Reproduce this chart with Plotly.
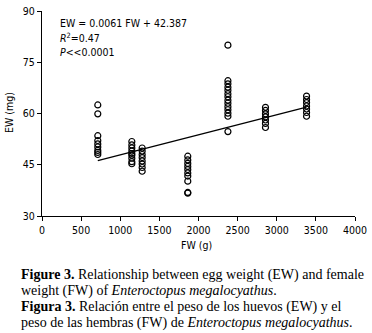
import plotly.graph_objects as go

# ---- data ----
fw_groups = [713, 1148, 1280, 1863, 2376, 2856, 3381]
ew_700 = [62.5, 59.9, 53.5, 52.1, 51.1, 50.2, 49.2, 48.6, 48.0]
ew_1150 = [51.8, 50.8, 49.9, 49.0, 48.3, 47.8, 46.9, 45.9, 45.3]
ew_1280 = [49.9, 49.0, 48.0, 47.1, 46.1, 45.2, 44.2, 43.1]
ew_1870 = [47.5, 46.4, 45.4, 44.5, 43.6, 42.6, 41.7, 40.2, 36.9, 36.7]
ew_2380 = [80.0, 69.6, 68.7, 67.7, 66.8, 65.8, 64.9, 63.9, 63.0, 62.0, 61.1, 60.1, 59.2, 54.7]
ew_2860 = [61.8, 60.9, 59.9, 59.0, 58.1, 57.1, 55.9]
ew_3380 = [65.1, 64.1, 63.2, 62.2, 61.3, 60.3, 59.2]
ew_groups = [ew_700, ew_1150, ew_1280, ew_1870, ew_2380, ew_2860, ew_3380]

fit_fw = [713, 3381]
fit_ew = [46.2, 61.9]

x_ticks = [0, 500, 1000, 1500, 2000, 2500, 3000, 3500, 4000]
y_ticks = [30, 45, 60, 75, 90]

eq_lines = ["EW = 0.0061 FW + 42.387", "<i>R</i><sup>2</sup>=0.47", "<i>P</i>&lt;&lt;0.0001"]
caption_lines = [
    "<b>Figure 3.</b> Relationship between egg weight (EW) and female",
    "weight (FW) of <i>Enteroctopus megalocyathus</i>.",
    "<b>Figura 3.</b> Relación entre el peso de los huevos (EW) y el",
    "peso de las hembras (FW) de <i>Enteroctopus megalocyathus</i>.",
]

# ---- build ----
xs, ys = [], []
for f, vals in zip(fw_groups, ew_groups):
    xs += [f] * len(vals)
    ys += vals

W, H = 372, 333
L, R, T, B = 42, 7, 5, 117
pw, ph = W - L - R, H - T - B

def px(x):
    return (x - L) / pw

def py(y):
    return (H - B - y) / ph

NARROW = "Liberation Sans Narrow, Arial Narrow, DejaVu Sans Condensed, Arial, sans-serif"
SERIF = "Liberation Serif, Times New Roman, serif"
FS = 10.5

fig = go.Figure()
fig.add_trace(go.Scatter(x=fit_fw, y=fit_ew, mode="lines",
                         line=dict(color="black", width=1.3), showlegend=False))
fig.add_trace(go.Scatter(x=xs, y=ys, mode="markers",
                         marker=dict(symbol="circle-open", size=6, color="black",
                                     line=dict(width=1.2, color="black")),
                         showlegend=False))

ann = []
for i, t in enumerate(eq_lines):
    ann.append(dict(text=t, x=px(59), y=py(17 + 15 * i), xref="paper", yref="paper",
                    xanchor="left", yanchor="middle", showarrow=False,
                    font=dict(family=NARROW, size=FS, color="black")))
ann.append(dict(text="FW (g)", x=px(201), y=py(246), xref="paper", yref="paper",
                xanchor="center", yanchor="middle", showarrow=False,
                font=dict(family=NARROW, size=FS, color="black")))
ann.append(dict(text="EW (mg)", x=px(8), y=py(110), xref="paper", yref="paper",
                xanchor="center", yanchor="middle", showarrow=False, textangle=-90,
                font=dict(family=NARROW, size=FS, color="black")))
cap_y = [277, 293, 310, 326]
for t, yy in zip(caption_lines, cap_y):
    ann.append(dict(text=t, x=px(18), y=py(yy), xref="paper", yref="paper",
                    xanchor="left", yanchor="middle", showarrow=False,
                    font=dict(family=SERIF, size=14, color="black")))

axis_common = dict(showline=True, linecolor="black", linewidth=1, ticks="outside",
                   ticklen=4, tickcolor="black", showgrid=False, zeroline=False,
                   ticklabeloverflow="allow",
                   tickfont=dict(family=NARROW, size=FS, color="black"))

fig.update_layout(
    width=W, height=H, autosize=False,
    margin=dict(l=L, r=R, t=T, b=B, pad=0),
    paper_bgcolor="white", plot_bgcolor="white",
    annotations=ann,
    xaxis=dict(range=[0, 4000], tickvals=x_ticks, **axis_common),
    yaxis=dict(range=[30, 90], tickvals=y_ticks, **axis_common),
)

fig.write_html("out.html", config={"displayModeBar": False},
               post_script="document.body.style.margin='0';document.body.style.overflow='hidden';")
